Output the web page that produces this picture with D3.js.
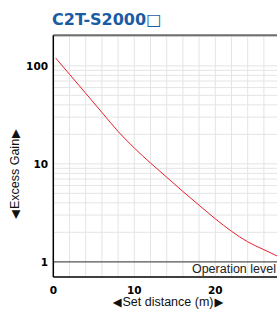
<!DOCTYPE html>
<html>
<head>
<meta charset="utf-8">
<script src="https://cdn.jsdelivr.net/npm/d3@7"></script>
<style>
  body { margin: 0; background: #fff; }
  svg { display: block; }
</style>
</head>
<body>
<svg width="277" height="318"></svg>
<script>
// distance (m) vs excess gain
var distance = [0.3, 2, 4, 6, 8, 10, 12, 14, 16, 18, 20, 22, 24, 26, 28, 30];
var gain = [120, 82, 52.5, 33.5, 21.4, 14.5, 10.2, 7.3, 5.22, 3.78, 2.75, 2.05, 1.6, 1.33, 1.11, 0.93];
var xTicks = [0, 10, 20];
var yTicks = [1, 10, 100];
var xGrid = d3.range(2, 31, 2);
var yGrid = [2, 3, 4, 5, 6, 7, 8, 9, 10, 20, 30, 40, 50, 60, 70, 80, 90, 100, 200];

var svg = d3.select("svg");
var plotL = 53.3, plotR = 296.3, plotT = 35.3, plotB = 277;

var xScale = d3.scaleLinear().domain([0, 30]).range([plotL, plotR]);
var yScale = d3.scaleLog().domain([0.7, 205]).range([plotB, plotT]);

// title
svg.append("text")
  .attr("x", 52).attr("y", 25)
  .attr("fill", "#1b5ba3")
  .attr("font-family", "DejaVu Sans").attr("font-weight", "bold")
  .attr("font-size", 16)
  .text("C2T-S2000\u25A1");

var g = svg.append("g");

// grid
g.selectAll(".vg").data(xGrid).enter().append("line")
  .attr("x1", function(d) { return xScale(d); })
  .attr("x2", function(d) { return xScale(d); })
  .attr("y1", plotT).attr("y2", plotB)
  .attr("stroke", "#e4e4e4").attr("stroke-width", 1);

g.selectAll(".hg").data(yGrid).enter().append("line")
  .attr("x1", plotL).attr("x2", plotR)
  .attr("y1", function(d) { return yScale(d); })
  .attr("y2", function(d) { return yScale(d); })
  .attr("stroke", "#e4e4e4").attr("stroke-width", 1);

// operation level
g.append("line")
  .attr("x1", plotL).attr("x2", plotR)
  .attr("y1", yScale(1)).attr("y2", yScale(1))
  .attr("stroke", "#555").attr("stroke-width", 1.2);
g.append("text")
  .attr("x", 276).attr("y", 273)
  .attr("text-anchor", "end")
  .attr("font-family", "Liberation Sans").attr("font-size", 12.5)
  .attr("fill", "#222")
  .text("Operation level");

// curve
var line = d3.line()
  .x(function(d, i) { return xScale(distance[i]); })
  .y(function(d) { return yScale(d); })
  .curve(d3.curveMonotoneX);
g.append("path")
  .datum(gain)
  .attr("d", line)
  .attr("fill", "none")
  .attr("stroke", "#e8212b").attr("stroke-width", 1);

// frame
g.append("line")
  .attr("x1", plotL).attr("x2", plotR).attr("y1", plotT).attr("y2", plotT)
  .attr("stroke", "#6e6e6e").attr("stroke-width", 2);
g.append("line")
  .attr("x1", plotL).attr("x2", plotL).attr("y1", plotT).attr("y2", plotB)
  .attr("stroke", "#000").attr("stroke-width", 1.5);
g.append("line")
  .attr("x1", plotL).attr("x2", plotR).attr("y1", plotB).attr("y2", plotB)
  .attr("stroke", "#000").attr("stroke-width", 1.5);

// tick labels
g.selectAll(".xt").data(xTicks).enter().append("text")
  .attr("x", function(d) { return xScale(d); })
  .attr("y", 294)
  .attr("text-anchor", "middle")
  .attr("font-family", "DejaVu Sans").attr("font-weight", "bold").attr("font-size", 10.5)
  .text(function(d) { return d; });

g.selectAll(".yt").data(yTicks).enter().append("text")
  .attr("x", 48)
  .attr("y", function(d) { return yScale(d) + 4; })
  .attr("text-anchor", "end")
  .attr("font-family", "DejaVu Sans").attr("font-weight", "bold").attr("font-size", 10.5)
  .text(function(d) { return d; });

// axis titles, with small arrow glyphs
function axisTitle(sel, label) {
  sel.attr("text-anchor", "middle")
    .attr("font-family", "Liberation Sans").attr("font-size", 12.5)
    .attr("fill", "#111");
  sel.append("tspan").attr("font-family", "DejaVu Sans").attr("font-size", 11.5).text("\u25C0");
  sel.append("tspan").attr("dx", 1).text(label);
  sel.append("tspan").attr("dx", 1).attr("font-family", "DejaVu Sans").attr("font-size", 11.5).text("\u25B6");
}

svg.append("text")
  .attr("x", 168).attr("y", 306)
  .call(axisTitle, "Set distance (m)");

svg.append("text")
  .attr("transform", "translate(19.3,174) rotate(-90)")
  .call(axisTitle, "Excess Gain");
</script>
</body>
</html>
